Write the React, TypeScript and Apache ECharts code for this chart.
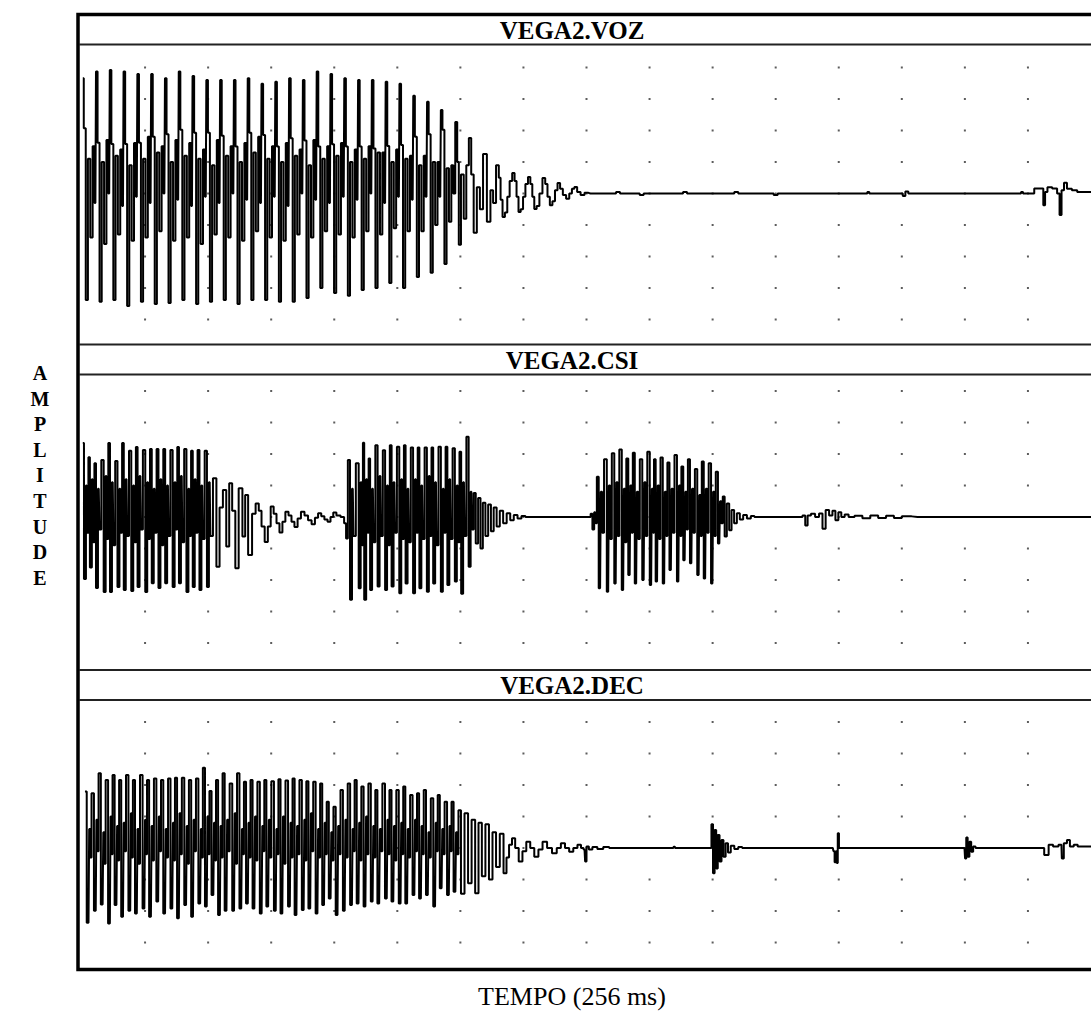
import React, { useEffect, useRef } from "react";
import * as echarts from "echarts";

// ---------- texts ----------
const TITLES = ["VEGA2.VOZ", "VEGA2.CSI", "VEGA2.DEC"];
const X_LABEL = "TEMPO (256 ms)";
const Y_LABEL = "AMPLITUDE";

// ---------- grid of dots (ms / amplitude divisions) ----------
const X_DOTS = [16, 32, 48, 64, 80, 96, 112, 128, 144, 160, 176, 192, 208, 224, 240];
const Y_DOTS_FULL = [-4, -3, -2, -1, 0, 1, 2, 3, 4];
const Y_DOTS_DEC = [-3, -2, -1, 0, 1, 2, 3, 4];

// ---------- VEGA2.VOZ ----------
const vozStart = [0.2, 3.7, 7.2, 10.7, 14.2, 17.7, 21.2, 24.7, 28.2, 31.7, 35.2, 38.7, 42.2, 45.7, 49.2, 52.7, 56.2, 59.7, 63.2, 66.7, 70.2, 73.7, 77.2, 80.7, 84.2, 87.7, 91.2];
const vozUp = [3.66, 3.87, 3.92, 3.87, 3.79, 3.79, 3.66, 3.87, 3.73, 3.6, 3.6, 3.6, 3.66, 3.48, 3.55, 3.66, 3.6, 3.87, 3.79, 3.66, 3.6, 3.6, 3.55, 3.48, 3.1, 2.91, 2.65];
const vozShoulder = [2.07, 1.61, 1.57, 1.57, 1.61, 1.8, 1.88, 2.02, 1.93, 1.93, 1.83, 1.49, 1.93, 1.86, 1.49, 1.75, 1.68, 1.49, 1.56, 1.49, 1.49, 1.43, 1.51, 1.54, 1.8, 1.88, 2.02];
const vozDown = [-3.38, -3.44, -3.38, -3.57, -3.44, -3.51, -3.48, -3.38, -3.51, -3.44, -3.38, -3.51, -3.38, -3.38, -3.44, -3.44, -3.32, -3.0, -3.16, -3.25, -3.06, -3.0, -2.84, -3.0, -2.65, -2.52, -2.24];
const vozMidA = [1.1, 1.0, 1.2, 0.9, 1.1, 1.3, 1.0, 1.2, 1.1, 0.9, 1.2, 1.0, 1.3, 1.1, 1.0, 1.2, 0.9, 1.1, 1.2, 1.0, 1.1, 1.3, 1.0, 1.1, 0.9, 1.0, 0.8];
const vozMidB = [-1.4, -1.6, -1.3, -1.5, -1.4, -1.2, -1.5, -1.4, -1.6, -1.3, -1.4, -1.5, -1.2, -1.4, -1.5, -1.3, -1.4, -1.2, -1.3, -1.4, -1.2, -1.3, -1.1, -1.2, -1.2, -1.0, -0.9];
const vozMidC = [1.5, 1.7, 1.4, 1.6, 1.8, 1.5, 1.7, 1.6, 1.4, 1.7, 1.5, 1.6, 1.8, 1.5, 1.6, 1.4, 1.7, 1.5, 1.6, 1.4, 1.5, 1.3, 1.4, 1.2, 1.2, 1.0, 0.9];
const vozMidD = [-0.3, 0.0, -0.4, -0.1, -0.3, 0.0, -0.2, -0.4, -0.1, -0.3, 0.0, -0.2, -0.3, -0.1, -0.4, 0.0, -0.2, -0.3, -0.1, -0.2, 0.0, -0.3, -0.1, -0.2, -0.1, -0.1, 0.0];
const vozTail: [number, number][] = [
  [95.0, 2.27], [95.4, 1.0], [95.8, -1.63], [96.5, 0.6], [97.2, -0.8], [97.8, 0.9], [98.5, 1.76], [99.0, 0.6], [99.75, -1.25],
  [100.6, 0.2], [101.3, -0.5], [102.2, 1.25], [103.25, -0.9], [104.0, 0.1], [104.6, -0.3], [105.5, 0.9], [106.0, 0.5],
  [106.4, -0.2], [107.0, -0.75], [107.6, -0.6], [108.2, -0.1], [108.8, 0.4], [109.5, 0.65], [110.0, 0.4], [110.5, -0.1],
  [111.0, -0.59], [111.6, -0.5], [112.2, -0.1], [112.8, 0.3], [113.5, 0.52], [114.0, 0.3], [114.5, -0.1], [115.0, -0.49],
  [115.7, -0.4], [116.4, 0.0], [117.25, 0.49], [117.8, 0.3], [118.4, -0.1], [119.0, -0.37], [119.7, -0.25], [120.3, 0.1],
  [121.0, 0.33], [121.6, 0.15], [122.4, -0.05], [123.25, -0.17], [124.0, 0.0], [124.6, 0.15], [125.25, 0.21], [126.0, 0.05],
  [127.0, -0.05], [128.0, 0.02], [129.0, 0], [135.0, 0], [136.0, 0.05], [137.0, 0], [141.0, 0], [142.0, -0.05],
  [143.0, 0], [152.0, 0], [153.0, 0.05], [154.0, 0], [165.0, 0], [166.0, 0.05], [167.0, 0], [175.0, 0], [176.0, -0.05], [177.0, 0],
  [199.0, 0], [199.5, 0.05], [200.0, 0], [208.0, 0], [208.5, -0.08], [209.3, 0.06], [210.0, 0], [238.0, 0], [238.5, 0.05],
  [239.0, 0], [241.2, 0], [242.0, 0.16], [243.7, 0.16], [244.1, -0.37], [244.6, 0.05], [245.3, 0.2], [247.0, 0.16], [247.8, 0],
  [248.25, -0.68], [248.8, 0.1], [249.5, 0.34], [250.3, 0.15], [252.0, 0.1], [253.0, 0.05], [256.0, 0.05],
];

// ---------- VEGA2.CSI ----------
const csi1Start = [0.2, 1.7, 3.25, 5.2, 6.8, 8.7, 10.3, 12.2, 13.8, 15.75, 17.4, 19.1, 20.8, 22.7, 24.3, 26.2, 27.8, 29.5, 31.4];
const csi1Up = [2.35, 1.9, 1.71, 1.81, 2.35, 1.78, 2.35, 2.1, 2.22, 2.13, 2.16, 2.16, 2.16, 2.13, 2.22, 2.16, 2.1, 2.13, 2.1];
const csi1Down = [-1.97, -1.6, -2.25, -2.38, -2.38, -2.22, -2.32, -2.35, -2.22, -2.38, -2.1, -2.25, -2.1, -2.22, -2.1, -2.38, -2.22, -2.32, -2.22];
const csi1Hi = [1.0, 1.2, 0.9, 1.3, 1.1, 0.9, 1.2, 1.0, 1.3, 1.1, 0.9, 1.2, 1.0, 1.1, 1.3, 0.9, 1.2, 1.0, 1.1];
const csi1Lo = [-0.5, -0.8, -0.4, -0.7, -0.9, -0.5, -0.6, -0.8, -0.4, -0.7, -0.5, -0.9, -0.6, -0.4, -0.8, -0.6, -0.5, -0.7, -0.6];
const csi1Tail: [number, number][] = [
  [33.7, 1.23], [34.5, -1.58], [35.3, 0.3], [36.2, 0.86], [37.0, -0.94], [37.7, 1.07], [38.5, 0.2], [39.3, -1.63], [40.2, 0.91],
  [41.2, -0.62], [41.6, 0.7], [42.7, -1.21], [43.6, 0.1], [44.5, 0.43], [45.2, 0.2], [45.9, -0.3], [46.8, -0.79], [47.5, -0.3],
  [48.25, 0.33], [49.0, 0.1], [49.7, -0.2], [50.5, -0.49], [51.2, -0.15], [52.0, 0.17], [52.8, 0.05], [53.5, -0.15],
  [54.3, -0.32], [55.1, -0.05], [56.0, 0.17], [56.9, 0.05], [57.8, -0.1], [58.7, -0.23], [59.5, -0.02], [60.3, 0.12],
  [61.1, 0.02], [61.9, -0.08], [62.7, -0.15], [63.4, 0.0], [64.1, 0.14], [65.0, 0.05], [66.2, 0.0], [66.8, -0.2], [67.2, -0.68],
];
const csi2Start = [67.7, 69.9, 71.3, 72.8, 74.7, 76.6, 78.25, 80.2, 81.8, 83.7, 85.3, 87.2, 88.8, 90.75, 92.4, 94.3, 95.9, 97.8];
const csi2Up = [1.81, 1.71, 2.36, 1.86, 2.28, 2.12, 2.28, 2.23, 2.28, 2.21, 2.21, 2.21, 2.21, 2.23, 2.23, 2.18, 2.07, 2.55];
const csi2Down = [-2.63, -2.26, -2.63, -2.32, -2.21, -2.32, -2.21, -2.42, -2.11, -2.42, -2.26, -2.37, -2.11, -2.37, -2.16, -2.05, -2.44, -1.58];
const csi2Hi = [0.9, 1.1, 1.2, 0.9, 1.3, 1.0, 1.1, 1.2, 0.9, 1.2, 1.0, 1.3, 1.1, 0.9, 1.2, 1.0, 1.1, 0.8];
const csi2Lo = [-0.6, -0.9, -0.5, -0.8, -0.6, -0.9, -0.5, -0.7, -0.8, -0.5, -0.7, -0.6, -0.9, -0.5, -0.7, -0.8, -0.6, -0.4];
const csi2Tail: [number, number][] = [
  [99.6, 0.76], [100.2, -0.84], [100.8, 0.6], [101.4, -1.0], [102.0, 0.45], [102.7, -0.6], [103.4, 0.4], [104.1, -0.45],
  [104.8, 0.3], [105.6, -0.3], [106.4, 0.2], [107.3, -0.2], [108.2, 0.12], [109.1, -0.1], [110.0, 0.06], [111.0, -0.05],
  [112.0, 0.03], [113.0, 0], [128.8, 0], [129.3, 0.1], [129.7, -0.4], [130.2, 0.15], [130.5, -0.2],
];
const csi3Start = [130.75, 132.8, 134.7, 136.6, 138.25, 139.9, 141.8, 143.7, 145.2, 147.0, 148.7, 150.6, 152.2, 153.9, 155.75, 157.4, 159.25, 161.0];
const csi3Up = [1.28, 1.83, 2.02, 2.14, 1.86, 2.04, 1.83, 2.07, 1.83, 1.89, 1.73, 1.97, 1.6, 1.83, 1.52, 1.76, 1.71, 1.44];
const csi3Down = [-2.26, -2.37, -2.11, -2.32, -1.84, -2.11, -2.0, -2.16, -2.05, -2.11, -1.68, -2.05, -1.37, -1.47, -1.84, -1.95, -2.11, -0.84];
const csi3Hi = [0.8, 1.0, 1.1, 0.9, 1.0, 0.8, 1.1, 0.9, 1.0, 0.8, 0.9, 1.0, 0.8, 0.9, 0.7, 0.9, 0.8, 0.5];
const csi3Lo = [-0.5, -0.7, -0.6, -0.8, -0.5, -0.7, -0.6, -0.5, -0.7, -0.6, -0.5, -0.6, -0.4, -0.5, -0.6, -0.5, -0.6, -0.2];
const csi3Tail: [number, number][] = [
  [162.8, 0.65], [163.3, -0.62], [163.9, 0.43], [164.5, -0.42], [165.1, 0.22], [165.8, -0.2], [166.5, 0.12], [167.3, -0.08],
  [168.2, 0.06], [169.2, -0.05], [170.2, 0.03], [171.0, 0], [182.4, 0], [183.2, 0.05], [183.8, -0.27], [184.4, 0.05],
  [185.5, 0.1], [186.5, 0.0], [187.5, 0.11], [188.25, -0.37], [189.1, 0.22], [190.0, 0.05], [190.8, 0.2], [191.5, -0.1],
  [192.3, 0.15], [193.0, 0.0], [194.0, 0.08], [195.0, 0], [197.0, 0.04], [199.0, -0.04], [201.0, 0.05], [203.0, -0.03],
  [205.0, 0.04], [207.0, -0.03], [209.0, 0.02], [212.0, 0], [256.0, 0],
];

// ---------- VEGA2.DEC ----------
const decStart = [0.75, 2.58, 4.33, 6.17, 7.83, 9.5, 11.33, 13.0, 14.92, 16.58, 18.42, 20.17, 22.0, 23.67, 25.5, 27.25, 29.08, 30.75, 32.42, 34.08, 35.75, 37.67, 39.5, 41.17, 42.83, 44.67, 46.33, 48.25, 49.92, 51.83, 53.5, 55.33, 57.0, 58.83, 60.5, 62.17, 63.92, 65.75, 67.58, 69.25, 71.0, 72.83, 74.5, 76.42, 78.08, 79.92, 81.58, 83.42, 85.08, 86.83, 88.67, 90.33, 92.17, 93.83];
const decUp = [1.79, 1.74, 2.37, 2.16, 2.32, 2.16, 2.32, 2.16, 2.32, 2.16, 2.21, 2.16, 2.21, 2.23, 2.23, 2.16, 2.21, 2.55, 1.81, 2.16, 2.37, 2.05, 2.37, 2.1, 2.16, 2.1, 2.16, 2.12, 2.18, 2.14, 2.21, 2.16, 2.12, 2.1, 2.05, 1.47, 1.31, 1.84, 2.05, 2.16, 1.95, 2.05, 1.84, 2.05, 1.84, 1.84, 1.95, 1.68, 1.74, 1.84, 1.58, 1.68, 1.47, 1.47];
const decDown = [-2.37, -1.99, -1.79, -2.4, -1.81, -2.18, -1.99, -2.08, -1.92, -2.18, -1.7, -2.08, -1.92, -2.23, -1.81, -2.18, -1.76, -1.86, -1.49, -2.13, -1.99, -1.99, -1.92, -1.76, -1.92, -2.08, -1.86, -1.99, -2.08, -1.86, -2.13, -1.97, -1.92, -2.08, -1.81, -1.6, -2.13, -1.99, -1.81, -1.76, -1.86, -1.7, -1.76, -1.6, -1.7, -1.76, -1.76, -1.49, -1.6, -1.49, -1.86, -1.28, -1.49, -1.39];
const decMid = [0.6, 0.9, 0.5, 1.0, 0.7, 0.8, 1.1, 0.6, 0.9, 0.7, 1.0, 0.6, 0.8, 1.1, 0.7, 0.9, 0.6, 1.0, 0.8, 0.7, 0.9, 1.1, 0.6, 0.8, 1.0, 0.7, 0.9, 0.6, 1.0, 0.8, 0.7, 0.9, 1.1, 0.6, 0.8, 0.5, 0.7, 0.9, 0.6, 0.8, 1.0, 0.7, 0.6, 0.9, 0.7, 0.8, 0.6, 0.9, 0.7, 0.5, 0.8, 0.6, 0.7, 0.5];
const decLo = [-0.3, -0.1, -0.5, -0.2, -0.4, -0.1, -0.3, -0.5, -0.2, -0.4, -0.1, -0.3, -0.4, -0.2, -0.5, -0.1, -0.3, -0.2, -0.4, -0.3, -0.1, -0.5, -0.2, -0.3, -0.4, -0.1, -0.3, -0.2, -0.5, -0.3, -0.2, -0.4, -0.1, -0.3, -0.2, -0.4, -0.2, -0.3, -0.1, -0.4, -0.2, -0.3, -0.1, -0.2, -0.4, -0.2, -0.3, -0.1, -0.2, -0.3, -0.1, -0.2, -0.1, -0.2];
const decTail: [number, number][] = [
  [95.7, 1.2], [96.6, -1.45], [97.5, 1.1], [98.4, -1.12], [99.3, 0.9], [100.2, -1.44], [101.0, 0.8], [101.9, -0.9], [102.8, 0.75],
  [103.7, -1.0], [104.6, 0.5], [105.5, -0.6], [106.5, 0.45], [107.4, -0.8], [108.0, -0.3], [108.7, 0.1], [109.5, 0.31],
  [110.3, 0.0], [111.3, -0.43], [112.2, -0.1], [113.25, 0.2], [114.2, 0.0], [115.3, -0.28], [116.3, -0.05], [117.4, 0.2],
  [118.6, 0.0], [119.9, -0.17], [121.0, 0.0], [122.0, 0.15], [123.1, 0.0], [124.1, -0.12], [125.2, 0.0], [126.2, 0.1],
  [127.0, 0.0], [127.5, -0.05], [127.8, -0.43], [128.2, 0.05], [129.0, -0.05], [130.0, 0.03], [131.5, -0.03], [133.0, 0.03],
  [134.5, 0], [150.0, 0], [150.3, 0.04], [150.6, 0], [159.5, 0], [159.9, 0.75], [160.3, -0.8], [160.7, 0.57], [161.1, -0.65],
  [161.5, 0.41], [162.0, -0.43], [162.5, 0.25], [163.0, -0.28], [163.6, 0.15], [164.2, -0.14], [165.0, 0.07], [166.0, -0.03],
  [167.0, 0.03], [168.0, 0], [190.5, 0], [190.8, -0.1], [191.1, -0.45], [191.4, -0.1], [191.6, -0.48], [191.9, 0.47], [192.2, 0],
  [223.9, 0], [224.2, -0.33], [224.5, 0.33], [224.9, -0.28], [225.4, 0.2], [225.8, -0.12], [226.4, 0.05], [227.0, 0],
  [243.5, 0], [244.75, -0.22], [245.75, 0.1], [247.0, 0.05], [248.5, 0.1], [248.7, -0.33], [249.5, 0.15], [250.3, 0.25],
  [251.0, 0.05], [252.25, 0.1], [253.0, 0.05], [256.0, 0.05],
];

// ---------- helpers ----------
function cycles(starts: number[], rows: number[][], offsets: number[]): [number, number][] {
  const pts: [number, number][] = [];
  starts.forEach((t, i) => {
    rows.forEach((r, j) => pts.push([+(t + offsets[j]).toFixed(3), r[i]]));
  });
  return pts;
}

const vozData = [
  ...cycles(vozStart, [vozUp, vozShoulder, vozDown, vozMidA, vozMidB, vozMidC, vozMidD], [0, 0.5, 1.0, 1.6, 2.2, 2.8, 3.2]),
  ...vozTail,
];
const csiData = [
  ...cycles(csi1Start, [csi1Up, csi1Down, csi1Hi, csi1Lo], [0, 0.6, 1.0, 1.35]),
  ...csi1Tail,
  ...cycles(csi2Start, [csi2Up, csi2Down, csi2Hi, csi2Lo], [0, 0.6, 1.0, 1.35]),
  ...csi2Tail,
  ...cycles(csi3Start, [csi3Up, csi3Down, csi3Hi, csi3Lo], [0, 0.7, 1.05, 1.35]),
  ...csi3Tail,
];
const decData = [...cycles(decStart, [decUp, decDown, decMid, decLo], [0, 0.9, 1.25, 1.5]), ...decTail];

const PANELS = [
  { title: TITLES[0], data: vozData, top: 45, height: 299, min: -4.778, max: 4.714, rows: Y_DOTS_FULL, titleY: 30 },
  { title: TITLES[1], data: csiData, top: 375, height: 295, min: -4.857, max: 4.508, rows: Y_DOTS_FULL, titleY: 360 },
  { title: TITLES[2], data: decData, top: 700, height: 269, min: -3.841, max: 4.698, rows: Y_DOTS_DEC, titleY: 685 },
];

const FONT = '"Liberation Serif", "Times New Roman", serif';

export default function App() {
  const ref = useRef<HTMLDivElement>(null);
  useEffect(() => {
    if (!ref.current) return;
    const chart = echarts.init(ref.current, undefined, { renderer: "svg" });
    const dotSeries = PANELS.map((p, i) => {
      const d: [number, number][] = [];
      X_DOTS.forEach((x) => p.rows.forEach((y) => d.push([x, y])));
      return {
        type: "scatter",
        xAxisIndex: i,
        yAxisIndex: i,
        data: d,
        symbol: "rect",
        symbolSize: 2,
        itemStyle: { color: "#333" },
        silent: true,
        z: 1,
      };
    });
    const lineSeries = PANELS.map((p, i) => ({
      type: "line",
      xAxisIndex: i,
      yAxisIndex: i,
      data: p.data,
      step: "middle",
      showSymbol: false,
      symbol: "none",
      lineStyle: { color: "#000", width: 2 },
      silent: true,
      clip: true,
      z: 2,
    }));
    const graphics: any[] = [
      { type: "rect", shape: { x: 78, y: 14.5, width: 1100, height: 955 }, style: { fill: "none", stroke: "#000", lineWidth: 3.5 }, silent: true },
    ];
    [44.5, 344.5, 374.5, 670, 700].forEach((y) =>
      graphics.push({ type: "line", shape: { x1: 79, y1: y, x2: 1091, y2: y }, style: { stroke: "#222", lineWidth: 2 }, silent: true })
    );
    PANELS.forEach((p) =>
      graphics.push({
        type: "text",
        x: 572,
        y: p.titleY,
        style: { text: p.title, font: `bold 25px ${FONT}`, fill: "#000", textAlign: "center", textVerticalAlign: "middle" },
        silent: true,
      })
    );
    graphics.push({
      type: "text",
      x: 572,
      y: 996,
      style: { text: X_LABEL, font: `26px ${FONT}`, fill: "#000", textAlign: "center", textVerticalAlign: "middle" },
      silent: true,
    });
    Y_LABEL.split("").forEach((ch, i) =>
      graphics.push({
        type: "text",
        x: 40,
        y: 373 + i * 25.6,
        style: { text: ch, font: `bold 20px ${FONT}`, fill: "#000", textAlign: "center", textVerticalAlign: "middle" },
        silent: true,
      })
    );
    chart.setOption({
      animation: false,
      backgroundColor: "#fff",
      grid: PANELS.map((p) => ({ left: 82, top: p.top, width: 1024, height: p.height, show: false })),
      xAxis: PANELS.map((_, i) => ({ type: "value", gridIndex: i, min: 0, max: 256, show: false })),
      yAxis: PANELS.map((p, i) => ({ type: "value", gridIndex: i, min: p.min, max: p.max, show: false })),
      series: [...dotSeries, ...lineSeries],
      graphic: graphics,
    } as any);
    return () => chart.dispose();
  }, []);
  return (
    <div
      ref={ref}
      style={{ position: "fixed", left: 0, top: 0, width: 1091, height: 1019, background: "#fff" }}
    />
  );
}
